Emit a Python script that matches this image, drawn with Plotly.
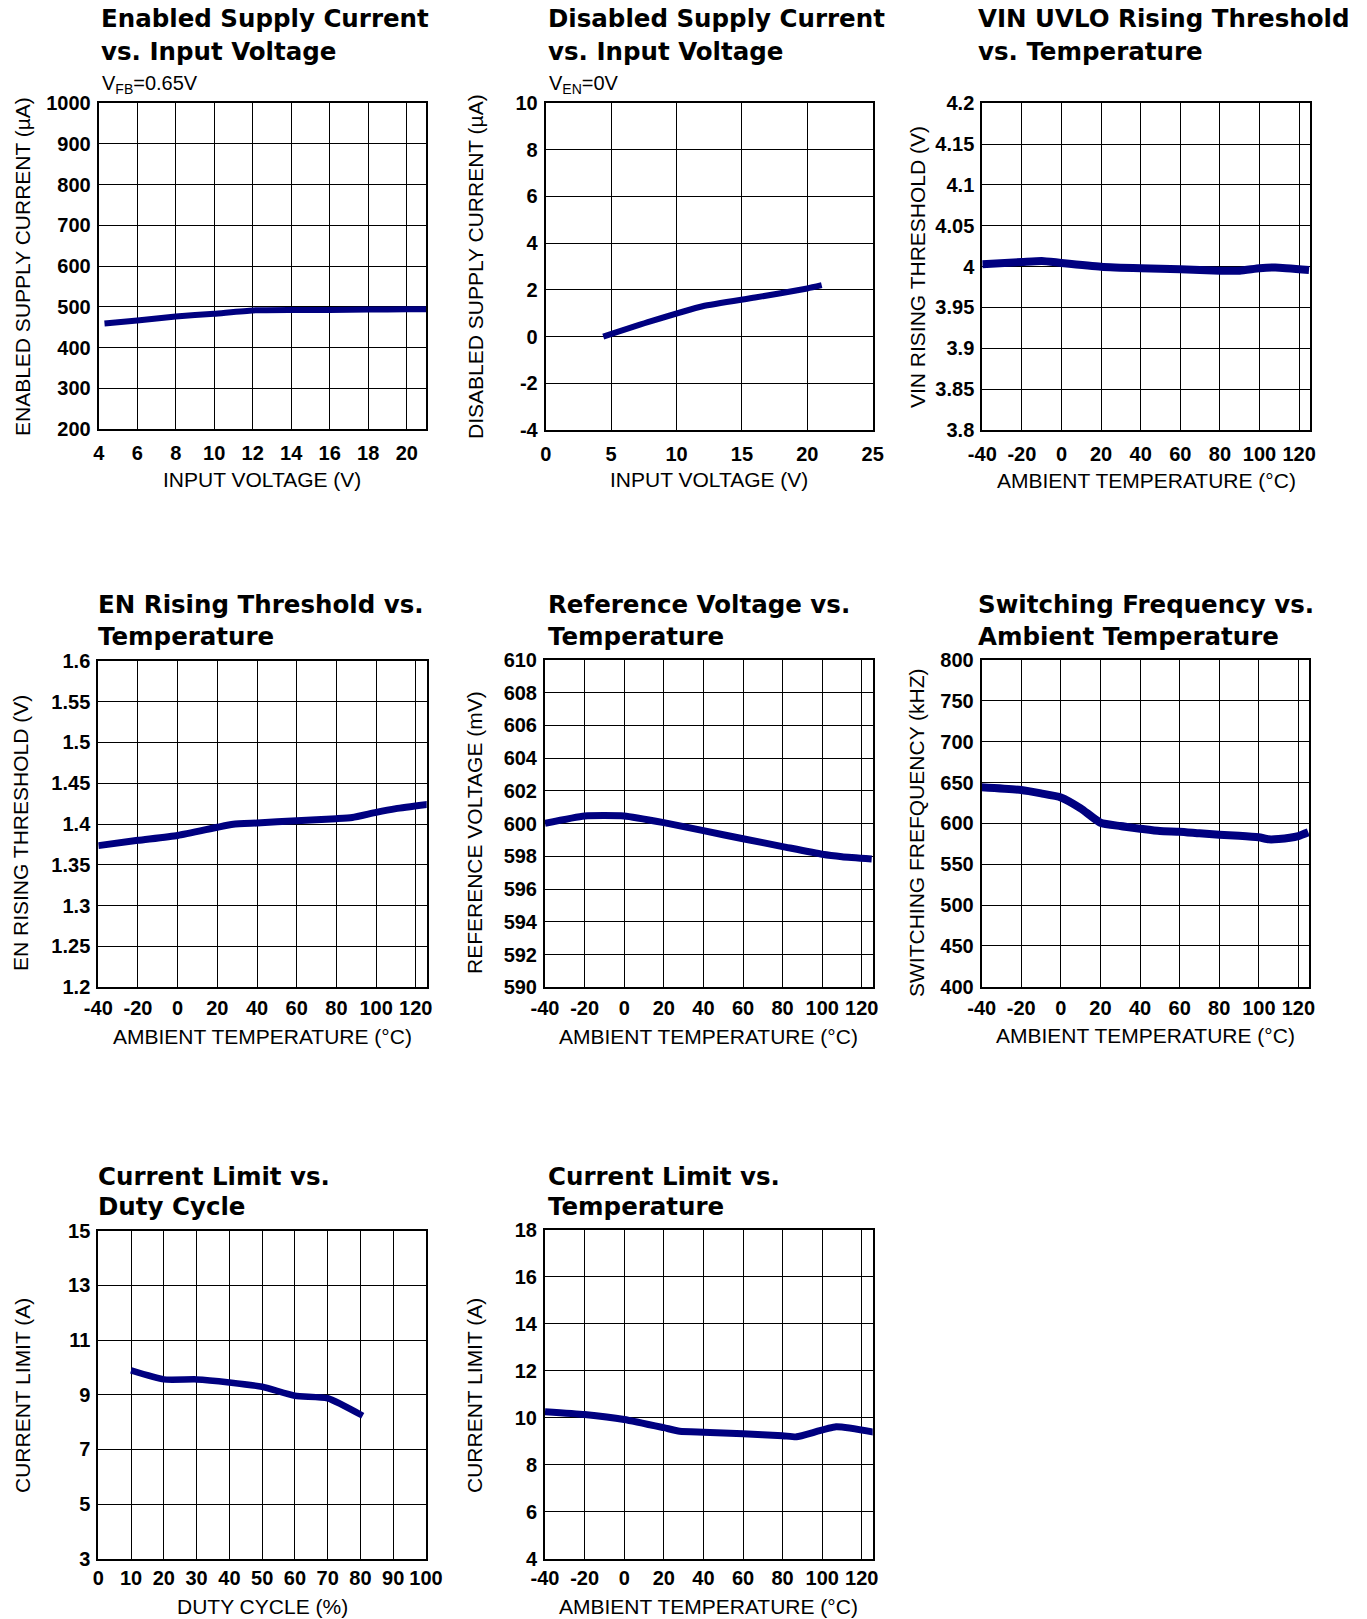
import plotly.graph_objects as go

W, H = 1367, 1619

# ---------------- DATA ----------------
# 1. Enabled supply current vs input voltage
en_vin = [4.3, 6, 8, 10, 12, 14, 16, 18, 20, 21]
en_iq = [459, 466, 476, 483, 491, 492, 492, 493, 494, 494]

# 2. Disabled supply current vs input voltage
dis_vin = [4.4, 8, 12, 16, 20, 21.1]
dis_iq = [0.0, 0.65, 1.3, 1.67, 2.06, 2.2]

# 3. VIN UVLO rising threshold vs temperature
uvlo_t = [-40, -20, -10, 0, 20, 40, 60, 80, 90, 100, 108, 125]
uvlo_v = [4.003, 4.0057, 4.007, 4.0045, 4.0, 3.998, 3.9967, 3.995, 3.995, 3.998, 3.999, 3.996]

# 4. EN rising threshold vs temperature
enr_t = [-40, -20, 0, 20, 28, 40, 60, 80, 88, 100, 110, 126]
enr_v = [1.3735, 1.380, 1.386, 1.396, 1.3996, 1.4012, 1.404, 1.4065, 1.408, 1.4143, 1.4188, 1.424]

# 5. Reference voltage vs temperature
ref_t = [-40, -20, 0, 20, 40, 60, 80, 100, 110, 125]
ref_v = [600.02, 600.47, 600.47, 600.06, 599.57, 599.08, 598.6, 598.13, 597.98, 597.84]

# 6. Switching frequency vs temperature
fsw_t = [-40, -20, -10, 0, 10, 20, 30, 40, 50, 60, 70, 80, 90, 100, 105, 110, 120, 125]
fsw_f = [644.1, 640.8, 636.7, 631.8, 618.4, 600.8, 596.7, 593.5, 590.6, 589.8, 587.8, 586.1,
         584.9, 582.9, 580.4, 580.8, 584.5, 589]

# 7. Current limit vs duty cycle
ilim_d = [10, 20, 30, 40, 50, 60, 70, 80.7]
ilim_dc = [9.89, 9.56, 9.56, 9.45, 9.29, 8.96, 8.87, 8.23]

# 8. Current limit vs temperature
ilim_t = [-40, -20, 0, 20, 28, 40, 60, 80, 87, 107, 126]
ilim_tv = [10.26, 10.14, 9.93, 9.58, 9.43, 9.39, 9.32, 9.24, 9.19, 9.62, 9.39]

# tick values / labels
temp_ticks = [-40, -20, 0, 20, 40, 60, 80, 100, 120]
temp_labels = ["-40", "-20", "0", "20", "40", "60", "80", "100", "120"]
en_xticks = [4, 6, 8, 10, 12, 14, 16, 18, 20]
en_yticks = [200, 300, 400, 500, 600, 700, 800, 900, 1000]
dis_xticks = [0, 5, 10, 15, 20, 25]
dis_yticks = [-4, -2, 0, 2, 4, 6, 8, 10]
dis_ylabels = ["-4", "-2", "0", "2", "4", "6", "8", "10"]
uvlo_yticks = [3.8, 3.85, 3.9, 3.95, 4.0, 4.05, 4.1, 4.15, 4.2]
uvlo_ylabels = ["3.8", "3.85", "3.9", "3.95", "4", "4.05", "4.1", "4.15", "4.2"]
enr_yticks = [1.2, 1.25, 1.3, 1.35, 1.4, 1.45, 1.5, 1.55, 1.6]
enr_ylabels = ["1.2", "1.25", "1.3", "1.35", "1.4", "1.45", "1.5", "1.55", "1.6"]
ref_yticks = [590, 592, 594, 596, 598, 600, 602, 604, 606, 608, 610]
fsw_yticks = [400, 450, 500, 550, 600, 650, 700, 750, 800]
duty_xticks = [0, 10, 20, 30, 40, 50, 60, 70, 80, 90, 100]
ilim_yticks = [3, 5, 7, 9, 11, 13, 15]
ilimt_yticks = [4, 6, 8, 10, 12, 14, 16, 18]

FONT = "Liberation Sans, Arial, Helvetica, sans-serif"
TFONT = "DejaVu Sans, Liberation Sans, Arial, sans-serif"
NAVY = "#000080"

panels = [
    dict(x=en_vin, y=en_iq, box=(98.7, 426, 103, 429), xr=[4, 21], yr=[200, 1000],
         xt=en_xticks, xl=None, yt=en_yticks, yl=None,
         title=["Enabled Supply Current", "vs. Input Voltage"], tx=99, ty=[19, 51],
         sub="V<sub>FB</sub>=0.65V", xtitle="INPUT VOLTAGE (V)", xty=479,
         ytitle="ENABLED SUPPLY CURRENT (µA)", ytx=22, yty=267, lw=6, xs=5),
    dict(x=dis_vin, y=dis_iq, box=(545.7, 872.7, 103, 430), xr=[0, 25], yr=[-4, 10],
         xt=dis_xticks, xl=None, yt=dis_yticks, yl=dis_ylabels,
         title=["Disabled Supply Current", "vs. Input Voltage"], tx=546, ty=[19, 51],
         sub="V<sub>EN</sub>=0V", xtitle="INPUT VOLTAGE (V)", xty=479,
         ytitle="DISABLED SUPPLY CURRENT (µA)", ytx=475, yty=267, lw=6, xs=5),
    dict(x=uvlo_t, y=uvlo_v, box=(982.3, 1310, 103.3, 430), xr=[-40, 125.5], yr=[3.8, 4.2],
         xt=temp_ticks, xl=temp_labels, yt=uvlo_yticks, yl=uvlo_ylabels,
         title=["VIN UVLO Rising Threshold", "vs. Temperature"], tx=976, ty=[19, 51],
         sub=None, xtitle="AMBIENT TEMPERATURE (°C)", xty=480,
         ytitle="VIN RISING THRESHOLD (V)", ytx=917, yty=267, lw=8, xs=5),
    dict(x=enr_t, y=enr_v, box=(98.3, 426.7, 660.7, 987.3), xr=[-40, 125.5], yr=[1.2, 1.6],
         xt=temp_ticks, xl=temp_labels, yt=enr_yticks, yl=enr_ylabels,
         title=["EN Rising Threshold vs.", "Temperature"], tx=96, ty=[605, 636],
         sub=None, xtitle="AMBIENT TEMPERATURE (°C)", xty=1036,
         ytitle="EN RISING THRESHOLD (V)", ytx=20, yty=833, lw=7, xs=2),
    dict(x=ref_t, y=ref_v, box=(545, 872.7, 660, 987.3), xr=[-40, 125.5], yr=[590, 610],
         xt=temp_ticks, xl=temp_labels, yt=ref_yticks, yl=None,
         title=["Reference Voltage vs.", "Temperature"], tx=546, ty=[605, 636],
         sub=None, xtitle="AMBIENT TEMPERATURE (°C)", xty=1036,
         ytitle="REFERENCE VOLTAGE (mV)", ytx=474, yty=833, lw=7, xs=2),
    dict(x=fsw_t, y=fsw_f, box=(981.7, 1309.3, 660, 986.7), xr=[-40, 125.5], yr=[400, 800],
         xt=temp_ticks, xl=temp_labels, yt=fsw_yticks, yl=None,
         title=["Switching Frequency vs.", "Ambient Temperature"], tx=976, ty=[605, 636],
         sub=None, xtitle="AMBIENT TEMPERATURE (°C)", xty=1035,
         ytitle="SWITCHING FREFQUENCY (kHZ)", ytx=916, yty=833, lw=8, xs=2),
    dict(x=ilim_d, y=ilim_dc, box=(98.3, 426, 1230.7, 1558.7), xr=[0, 100], yr=[3, 15],
         xt=duty_xticks, xl=None, yt=ilim_yticks, yl=None,
         title=["Current Limit vs.", "Duty Cycle"], tx=96, ty=[1176, 1206],
         sub=None, xtitle="DUTY CYCLE (%)", xty=1606,
         ytitle="CURRENT LIMIT (A)", ytx=22, yty=1396, lw=6.5, xs=0),
    dict(x=ilim_t, y=ilim_tv, box=(545, 872.7, 1230, 1558.7), xr=[-40, 125.5], yr=[4, 18],
         xt=temp_ticks, xl=temp_labels, yt=ilimt_yticks, yl=None,
         title=["Current Limit vs.", "Temperature"], tx=546, ty=[1176, 1206],
         sub=None, xtitle="AMBIENT TEMPERATURE (°C)", xty=1606,
         ytitle="CURRENT LIMIT (A)", ytx=474, yty=1396, lw=7, xs=0),
]

fig = go.Figure()
annotations = []
layout = {}

for i, p in enumerate(panels, start=1):
    xa = "x" if i == 1 else f"x{i}"
    ya = "y" if i == 1 else f"y{i}"
    x0, x1, y0, y1 = p["box"]
    fig.add_trace(go.Scatter(x=p["x"], y=p["y"], mode="lines", xaxis=xa, yaxis=ya,
                             line=dict(color=NAVY, width=p["lw"], shape="spline", smoothing=0.5),
                             showlegend=False, hoverinfo="skip"))
    axis_common = dict(showline=True, mirror=True, linecolor="black", linewidth=2,
                       showgrid=True, gridcolor="black", gridwidth=1.2, zeroline=False,
                       ticks="", fixedrange=True, automargin=False,
                       tickfont=dict(family=FONT, size=20, color="black", weight="bold"))
    xkw = dict(axis_common, domain=[x0 / W, x1 / W], range=p["xr"], anchor=ya,
               tickmode="array", tickvals=p["xt"], ticklabelstandoff=p["xs"])
    if p["xl"] is not None:
        xkw["ticktext"] = p["xl"]
    ykw = dict(axis_common, domain=[1 - y1 / H, 1 - y0 / H], range=p["yr"], anchor=xa,
               tickmode="array", tickvals=p["yt"], ticklabelstandoff=2)
    if p["yl"] is not None:
        ykw["ticktext"] = p["yl"]
    layout["xaxis" if i == 1 else f"xaxis{i}"] = xkw
    layout["yaxis" if i == 1 else f"yaxis{i}"] = ykw

    for line, ty in zip(p["title"], p["ty"]):
        annotations.append(dict(text=line, x=p["tx"] / W, y=1 - ty / H, xref="paper", yref="paper",
                                xanchor="left", yanchor="middle", showarrow=False,
                                font=dict(family=TFONT, size=24.5, color="black", weight="bold")))
    if p["sub"]:
        annotations.append(dict(text=p["sub"], x=(p["tx"] + 1) / W, y=1 - 84 / H, xref="paper",
                                yref="paper", xanchor="left", yanchor="middle", showarrow=False,
                                font=dict(family=FONT, size=20, color="black")))
    annotations.append(dict(text=p["xtitle"], x=(x0 + x1) / 2 / W, y=1 - p["xty"] / H,
                            xref="paper", yref="paper", xanchor="center", yanchor="middle",
                            showarrow=False, font=dict(family=FONT, size=21, color="black")))
    annotations.append(dict(text=p["ytitle"], x=p["ytx"] / W, y=1 - p["yty"] / H,
                            xref="paper", yref="paper", xanchor="center", yanchor="middle",
                            textangle=-90, showarrow=False,
                            font=dict(family=FONT, size=21, color="black")))

fig.update_layout(width=W, height=H, margin=dict(l=0, r=0, t=0, b=0, autoexpand=False),
                  paper_bgcolor="white", plot_bgcolor="white",
                  annotations=annotations, **layout)

fig.write_html("out.html", config={"displayModeBar": False},
               post_script="document.body.style.margin='0px';document.body.style.overflow='hidden';")
